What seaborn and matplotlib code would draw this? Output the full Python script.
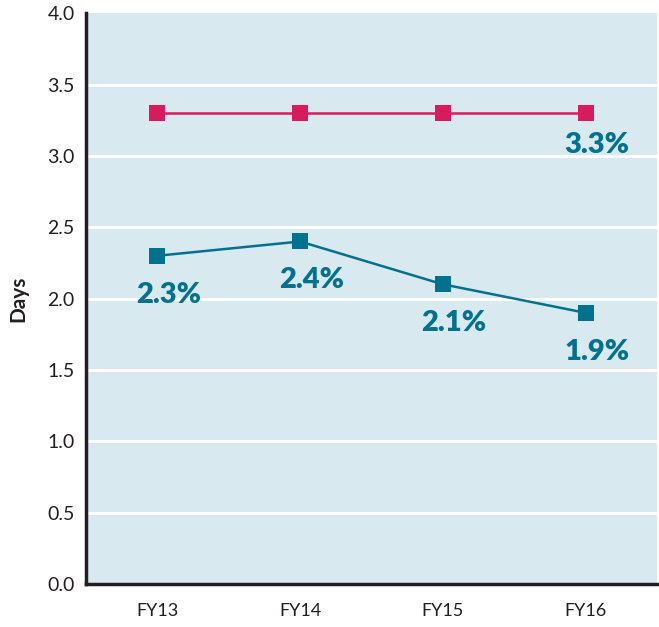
import matplotlib
matplotlib.use("Agg")
import matplotlib.pyplot as plt
import seaborn as sns
import pandas as pd
from matplotlib.ticker import FixedLocator

# data
years = ['FY13', 'FY14', 'FY15', 'FY16']
target = [3.3, 3.3, 3.3, 3.3]
actual = [2.3, 2.4, 2.1, 1.9]
actual_labels = ['2.3%', '2.4%', '2.1%', '1.9%']
target_label = '3.3%'

pink = '#d81b5d'
teal = '#00718f'
bg = '#d9e9f0'
dark = '#231f20'

sns.set_style('white')
plt.rcParams['font.family'] = ['Lato', 'DejaVu Sans']

df = pd.DataFrame({'year': years, 'target': target, 'actual': actual})
df['pos'] = range(len(years))

fig = plt.figure(figsize=(6.59, 6.27), dpi=100)
ax = fig.add_axes([0.1305, 0.0686, 0.8665, 0.9104])
ax.set_facecolor(bg)

for yv in [0.5, 1.0, 1.5, 2.0, 2.5, 3.0, 3.5]:
    ax.axhline(yv, color='white', lw=2.2, zorder=1)

sns.lineplot(data=df, x='pos', y='target', color=pink, lw=1.8, marker='s',
             markersize=12, markeredgewidth=0, ax=ax, zorder=3)
sns.lineplot(data=df, x='pos', y='actual', color=teal, lw=1.8, marker='s',
             markersize=12, markeredgewidth=0, ax=ax, zorder=3)

for i, (v, lab) in enumerate(zip(actual, actual_labels)):
    ax.annotate(lab, xy=(i, v), xytext=(8, -28), textcoords='offset points',
                ha='center', va='center', fontsize=21, fontweight='heavy',
                color=teal)
ax.annotate(target_label, xy=(3, target[3]), xytext=(8, -23),
            textcoords='offset points', ha='center', va='center',
            fontsize=21, fontweight='heavy', color=teal)

ax.set_xlim(-0.5, 3.5)
ax.set_ylim(0, 4.0)
ax.set_xticks(range(len(years)))
ax.set_xticklabels(years)
ax.xaxis.set_minor_locator(FixedLocator([0.5, 1.5, 2.5, 3.5]))
ax.tick_params(axis='x', which='major', length=0, pad=14, labelsize=13,
               labelcolor=dark)
ax.tick_params(axis='x', which='minor', direction='in', length=9, width=2,
               color=dark)
ax.set_yticks([0, 0.5, 1.0, 1.5, 2.0, 2.5, 3.0, 3.5, 4.0])
ax.set_yticklabels([f'{t:.1f}' for t in [0, 0.5, 1.0, 1.5, 2.0, 2.5, 3.0, 3.5, 4.0]])
ax.tick_params(axis='y', length=0, pad=8, labelsize=14, labelcolor=dark)

ax.set_xlabel('')
ax.set_ylabel('Days', fontsize=15, fontweight='bold', color=dark, labelpad=14)

sns.despine(ax=ax, top=True, right=True)
for s in ['left', 'bottom']:
    ax.spines[s].set_linewidth(2.5)
    ax.spines[s].set_color(dark)
    ax.spines[s].set_zorder(4)

fig.savefig('out.png', dpi=100)
